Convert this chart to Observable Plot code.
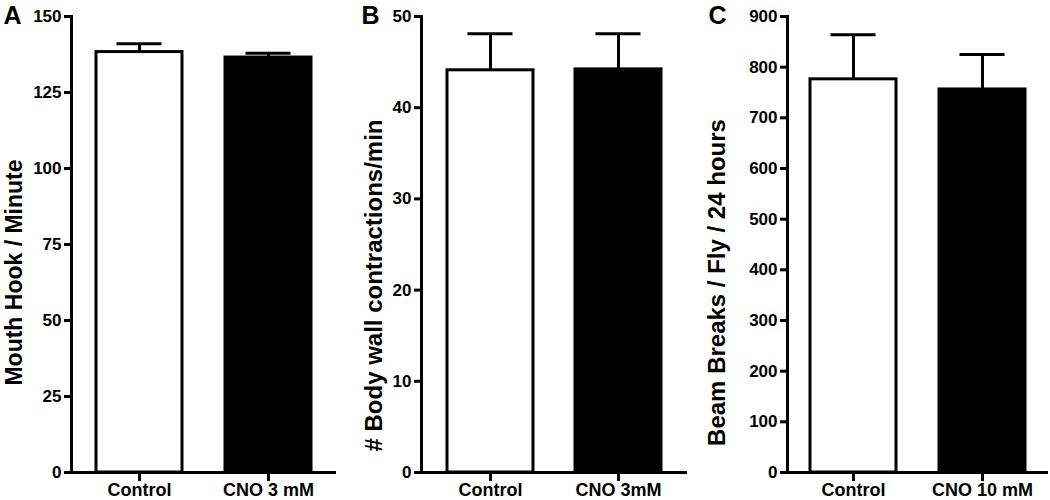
<!DOCTYPE html>
<html><head><meta charset="utf-8">
<script src="https://cdn.jsdelivr.net/npm/d3@7"></script>
<script src="https://cdn.jsdelivr.net/npm/@observablehq/plot@0.6"></script>
<style>
body{margin:0;background:#fff;}
#wrap{position:relative;width:1050px;height:500px;overflow:hidden;}
.panel{position:absolute;top:0;}
.panel text{font-weight:bold;}
</style></head><body><div id="wrap"></div>
<script>
// Panel A
const groupsA = ["Control", "CNO 3 mM"];
const meanA = [138.3, 136.5];
const semA = [2.7, 1.4];
const ticksA = [0, 25, 50, 75, 100, 125, 150];
const labelA = "Mouth Hook / Minute";
// Panel B
const groupsB = ["Control", "CNO 3mM"];
const meanB = [44.1, 44.2];
const semB = [4.0, 3.9];
const ticksB = [0, 10, 20, 30, 40, 50];
const labelB = "# Body wall contractions/min";
// Panel C
const groupsC = ["Control", "CNO 10 mM"];
const meanC = [776, 756];
const semC = [88, 69];
const ticksC = [0, 100, 200, 300, 400, 500, 600, 700, 800, 900];
const labelC = "Beam Breaks / Fly / 24 hours";
const letters = ["A", "B", "C"];

const FONT = "'Liberation Sans', Arial, Helvetica, sans-serif";
const H = 500, MT = 16, MB = 28;

function panel(o) {
  const data = o.groups.map((g, i) => ({group: g, mean: o.means[i], hi: o.means[i] + o.sems[i]}));
  const frameCenterY = MT + (H - MT - MB) / 2;
  const chart = Plot.plot({
    width: o.width, height: H,
    marginTop: MT, marginBottom: MB, marginLeft: o.ml, marginRight: o.mr,
    style: {fontFamily: FONT, fontWeight: "bold", background: "white", color: "black", overflow: "visible"},
    x: {type: "band", domain: o.groups, paddingInner: 0.33, paddingOuter: o.po, label: null, axis: null},
    y: {domain: [0, o.ticks[o.ticks.length - 1]], label: null, axis: null},
    color: {domain: o.groups, range: ["white", "black"]},
    marks: [
      Plot.ruleX(data, {x: "group", y1: "mean", y2: "hi", stroke: "black", strokeWidth: 3}),
      Plot.tickY(data, {x: "group", y: "hi", stroke: "black", strokeWidth: 3, inset: 20.5}),
      Plot.barY(data, {x: "group", y: "mean", fill: "group", stroke: "black", strokeWidth: 3}),
      Plot.ruleY([0], {stroke: "black", strokeWidth: 3}),
      Plot.frame({anchor: "left", stroke: "black", strokeWidth: 3}),
      Plot.axisY({ticks: o.ticks, tickSize: 7, strokeWidth: 3, tickFormat: () => "", label: null}),
      Plot.axisX({tickSize: 9, strokeWidth: 3, tickFormat: () => "", label: null}),
      Plot.text(o.ticks, {y: d => d, text: d => String(d), frameAnchor: "left", dx: -10,
        textAnchor: "end", lineAnchor: "middle", fontSize: 17, fontWeight: "bold", fill: "black"}),
      Plot.text(o.groups, {x: d => d, text: d => d, frameAnchor: "bottom", dy: 11,
        textAnchor: "middle", lineAnchor: "top", fontSize: 18, fontWeight: "bold", fill: "black"}),
      Plot.text([o.ylabel], {text: d => d, frameAnchor: "left", rotate: -90, dx: o.labelX - o.ml, dy: o.labelCY - frameCenterY,
        textAnchor: "middle", lineAnchor: "middle", fontSize: o.labelSize, fontWeight: "bold", fill: "black"}),
      Plot.text([o.letter], {text: d => d, frameAnchor: "top-left", dx: o.letterX - o.ml, dy: -1,
        textAnchor: "start", lineAnchor: "middle", fontSize: 25, fontWeight: "bold", fill: "black"})
    ]
  });
  chart.classList.add("panel");
  chart.style.left = o.left + "px";
  document.getElementById("wrap").appendChild(chart);
}

panel({left: 0, width: 350, ml: 71, mr: 14, po: 0.19, groups: groupsA, means: meanA, sems: semA, ticks: ticksA,
  ylabel: labelA, letter: letters[0], labelX: 14, labelCY: 272, labelSize: 23, letterX: 3});
panel({left: 350, width: 350, ml: 71, mr: 13, po: 0.2, groups: groupsB, means: meanB, sems: semB, ticks: ticksB,
  ylabel: labelB, letter: letters[1], labelX: 24, labelCY: 285, labelSize: 24, letterX: 11});
panel({left: 700, width: 350, ml: 87, mr: 2, po: 0.17, groups: groupsC, means: meanC, sems: semC, ticks: ticksC,
  ylabel: labelC, letter: letters[2], labelX: 17, labelCY: 282, labelSize: 24, letterX: 8});
</script>
</body></html>
